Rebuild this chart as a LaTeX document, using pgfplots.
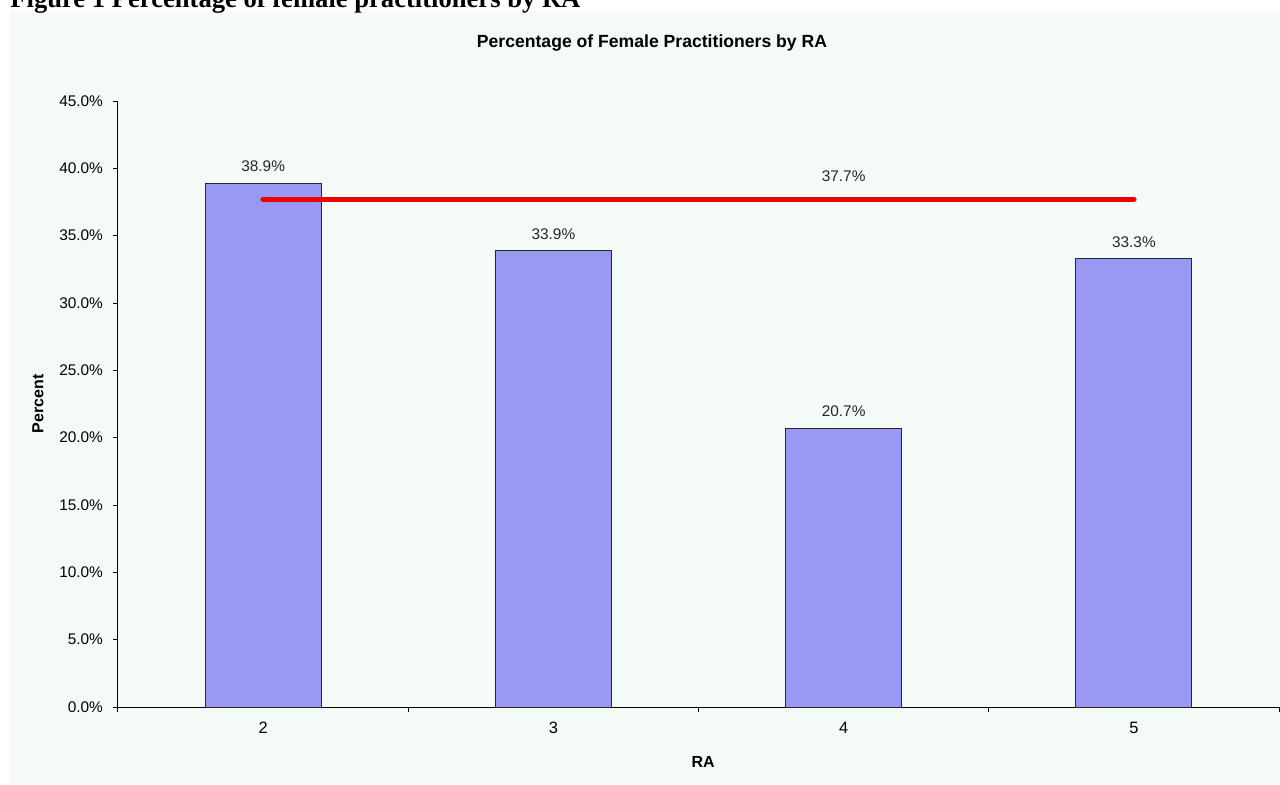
\documentclass[border=0pt]{standalone}
\usepackage{pgfplots}
\pgfplotsset{compat=1.18}
\usepackage{fontspec}
\setmainfont{Liberation Sans}
\newfontfamily\headfont{Liberation Serif}
\definecolor{bgc}{RGB}{244,250,246}
\definecolor{barc}{RGB}{153,153,245}
\definecolor{linec}{RGB}{238,0,0}
\begin{document}
\begin{tikzpicture}
\useasboundingbox (-59pt,-38.5pt) rectangle (581pt,353.5pt);
\fill[bgc] (-54.5pt,-38.5pt) rectangle (581pt,348pt);
\node[anchor=base west, inner sep=0pt, font=\headfont\bfseries\fontsize{13.3}{15}\selectfont] at (-54pt,349.75pt) {Figure 1 Percentage of female practitioners by RA};
\node[anchor=base, inner sep=0pt, font=\bfseries\fontsize{8.8}{10}\selectfont] at (267pt,330pt) {Percentage of Female Practitioners by RA};
\begin{axis}[
  at={(0pt,0pt)}, anchor=south west,
  scale only axis, width=580.5pt, height=303pt,
  xmin=-0.5, xmax=3.5, ymin=0, ymax=45,
  axis x line*=bottom, axis y line*=left,
  axis line style={black, line width=0.5pt},
  tick align=outside,
  major tick length=2.5pt,
  tick style={black, line width=0.5pt},
  xtick={-0.5,0.5,1.5,2.5,3.5}, xticklabels={},
  extra x ticks={0,1,2,3}, extra x tick labels={2,3,4,5},
  extra x tick style={major tick length=0pt, tick style={draw=none}},
  x tick label style={font=\fontsize{8.2}{9}\selectfont, yshift=-4pt},
  ytick={0,5,10,15,20,25,30,35,40,45},
  yticklabels={0.0\%,5.0\%,10.0\%,15.0\%,20.0\%,25.0\%,30.0\%,35.0\%,40.0\%,45.0\%},
  y tick label style={font=\fontsize{7.7}{9}\selectfont, xshift=-1.5pt},
  xlabel={RA}, ylabel={Percent},
  xlabel style={font=\bfseries\fontsize{8}{9}\selectfont, at={(axis description cs:0.504,0)}, anchor=base, yshift=-30pt},
  ylabel style={font=\bfseries\fontsize{8}{9}\selectfont, at={(axis description cs:0,0.5)}, anchor=center, yshift=40pt},
  clip=false,
]
\addplot[ybar, bar width=58pt, fill=barc, draw=black!85, line width=0.5pt,
  nodes near coords, point meta=explicit symbolic,
  nodes near coords style={font=\fontsize{7.7}{9}\selectfont, text=black!85, anchor=south, yshift=2pt}]
  coordinates {(0,38.9) [38.9\%] (1,33.9) [33.9\%] (2,20.7) [20.7\%] (3,33.3) [33.3\%]};
\addplot[linec, line width=2.7pt, line cap=round, mark=none,
  nodes near coords, point meta=explicit symbolic,
  nodes near coords style={font=\fontsize{7.7}{9}\selectfont, text=black!85, anchor=south, yshift=4pt}]
  coordinates {(0,37.7) [] (1,37.7) [] (2,37.7) [37.7\%] (3,37.7) []};
\end{axis}
\end{tikzpicture}
\end{document}
